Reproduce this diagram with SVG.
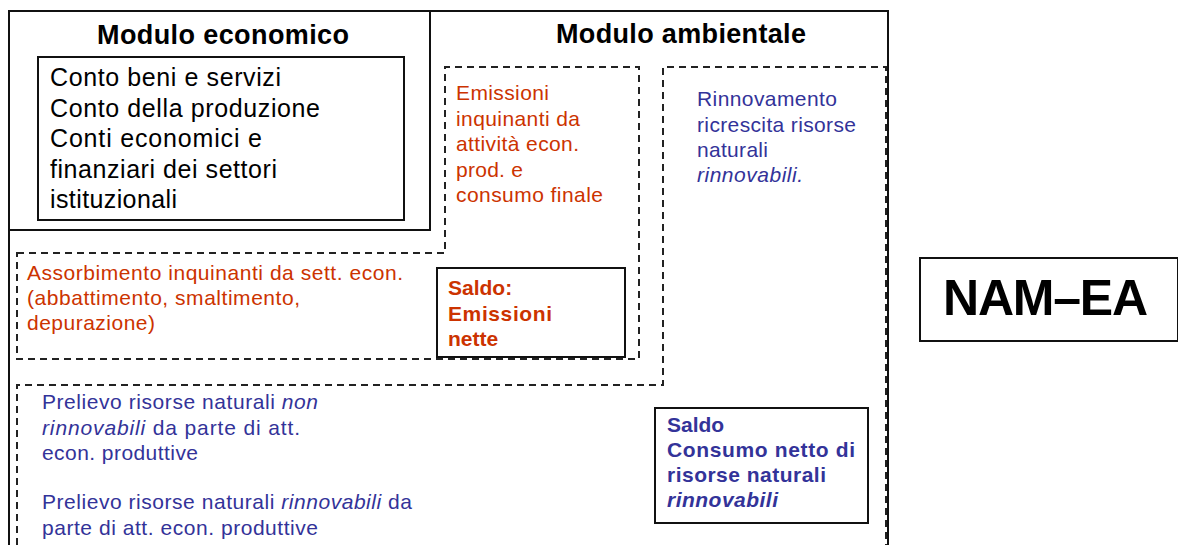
<svg xmlns="http://www.w3.org/2000/svg" width="1178" height="545" viewBox="0 0 1178 545">
<style>
.solid{fill:none;stroke:#111;stroke-width:2}
.dash{fill:none;stroke:#222;stroke-width:2;stroke-dasharray:7,5}
.t{font-family:"Liberation Sans",Arial,sans-serif}
.h{font-size:27px;font-weight:bold;fill:#000}
.k{font-size:25px;fill:#000}
.o{font-size:21px;fill:#cc3300}
.b{font-size:21px;fill:#333399}
.ob{font-size:21px;font-weight:bold;fill:#cc3300}
.bb{font-size:21px;font-weight:bold;fill:#333399}
</style>
<rect width="1178" height="545" fill="#fff"/>
<g id="frame">
<path class="solid" d="M9,545 V11 H888 V545"/>
</g>
<g id="modulo-economico">
<path class="solid" d="M9,230 H430 V11"/>
<text class="t h" x="97" y="44" textLength="252" lengthAdjust="spacing">Modulo economico</text>
</g>
<g id="conti">
<rect class="solid" x="38" y="57" width="366" height="163"/>
<text class="t k" x="50" y="86" textLength="231" lengthAdjust="spacing">Conto beni e servizi</text>
<text class="t k" x="50" y="117" textLength="270" lengthAdjust="spacing">Conto della produzione</text>
<text class="t k" x="50" y="147" textLength="212" lengthAdjust="spacing">Conti economici e</text>
<text class="t k" x="50" y="178" textLength="227" lengthAdjust="spacing">finanziari dei settori</text>
<text class="t k" x="50" y="208" textLength="127" lengthAdjust="spacing">istituzionali</text>
</g>
<g id="modulo-ambientale">
<text class="t h" x="556" y="43" textLength="250" lengthAdjust="spacing">Modulo ambientale</text>
</g>
<g id="emissioni-assorbimento">
<path class="dash" d="M17,253 H445 V67 H639 V359 H17 Z"/>
<text class="t o" x="456" y="100" textLength="93" lengthAdjust="spacing">Emissioni</text>
<text class="t o" x="456" y="126" textLength="124" lengthAdjust="spacing">inquinanti da</text>
<text class="t o" x="456" y="151" textLength="123" lengthAdjust="spacing">attività econ.</text>
<text class="t o" x="456" y="177" textLength="67" lengthAdjust="spacing">prod. e</text>
<text class="t o" x="456" y="202" textLength="147" lengthAdjust="spacing">consumo finale</text>
<text class="t o" x="27" y="280" textLength="376" lengthAdjust="spacing">Assorbimento inquinanti da sett. econ.</text>
<text class="t o" x="27" y="305" textLength="273" lengthAdjust="spacing">(abbattimento, smaltimento,</text>
<text class="t o" x="27" y="330" textLength="128" lengthAdjust="spacing">depurazione)</text>
</g>
<g id="saldo-emissioni">
<rect class="solid" x="437" y="268" width="188" height="89"/>
<text class="t ob" x="448" y="295">Saldo:</text>
<text class="t ob" x="448" y="321" textLength="104" lengthAdjust="spacing">Emissioni</text>
<text class="t ob" x="448" y="346">nette</text>
</g>
<g id="rinnovamento-prelievo">
<path class="dash" d="M17,545 V385 H663 V67 H886 V545"/>
<text class="t b" x="697" y="106" textLength="140" lengthAdjust="spacing">Rinnovamento</text>
<text class="t b" x="697" y="132" textLength="159" lengthAdjust="spacing">ricrescita risorse</text>
<text class="t b" x="697" y="157" textLength="71" lengthAdjust="spacing">naturali</text>
<text class="t b" x="697" y="182" font-style="italic" textLength="106" lengthAdjust="spacing">rinnovabili.</text>
<text class="t b" x="42" y="409" textLength="276" lengthAdjust="spacing">Prelievo risorse naturali <tspan font-style="italic">non</tspan></text>
<text class="t b" x="42" y="435" textLength="258" lengthAdjust="spacing"><tspan font-style="italic">rinnovabili</tspan> da parte di att.</text>
<text class="t b" x="42" y="460" textLength="156" lengthAdjust="spacing">econ. produttive</text>
<text class="t b" x="42" y="509" textLength="370" lengthAdjust="spacing">Prelievo risorse naturali <tspan font-style="italic">rinnovabili</tspan> da</text>
<text class="t b" x="42" y="535" textLength="276" lengthAdjust="spacing">parte di att. econ. produttive</text>
</g>
<g id="saldo-consumo">
<rect class="solid" x="655" y="408" width="213" height="115"/>
<text class="t bb" x="667" y="432">Saldo</text>
<text class="t bb" x="667" y="457" textLength="188" lengthAdjust="spacing">Consumo netto di</text>
<text class="t bb" x="667" y="482" textLength="159" lengthAdjust="spacing">risorse naturali</text>
<text class="t bb" x="667" y="507" font-style="italic" textLength="111" lengthAdjust="spacing">rinnovabili</text>
</g>
<g id="nam-ea">
<rect class="solid" x="920" y="258" width="258" height="83"/>
<text class="t" x="943" y="315" font-size="50" font-weight="bold" fill="#000" textLength="205" lengthAdjust="spacing">NAM–EA</text>
</g>
</svg>
